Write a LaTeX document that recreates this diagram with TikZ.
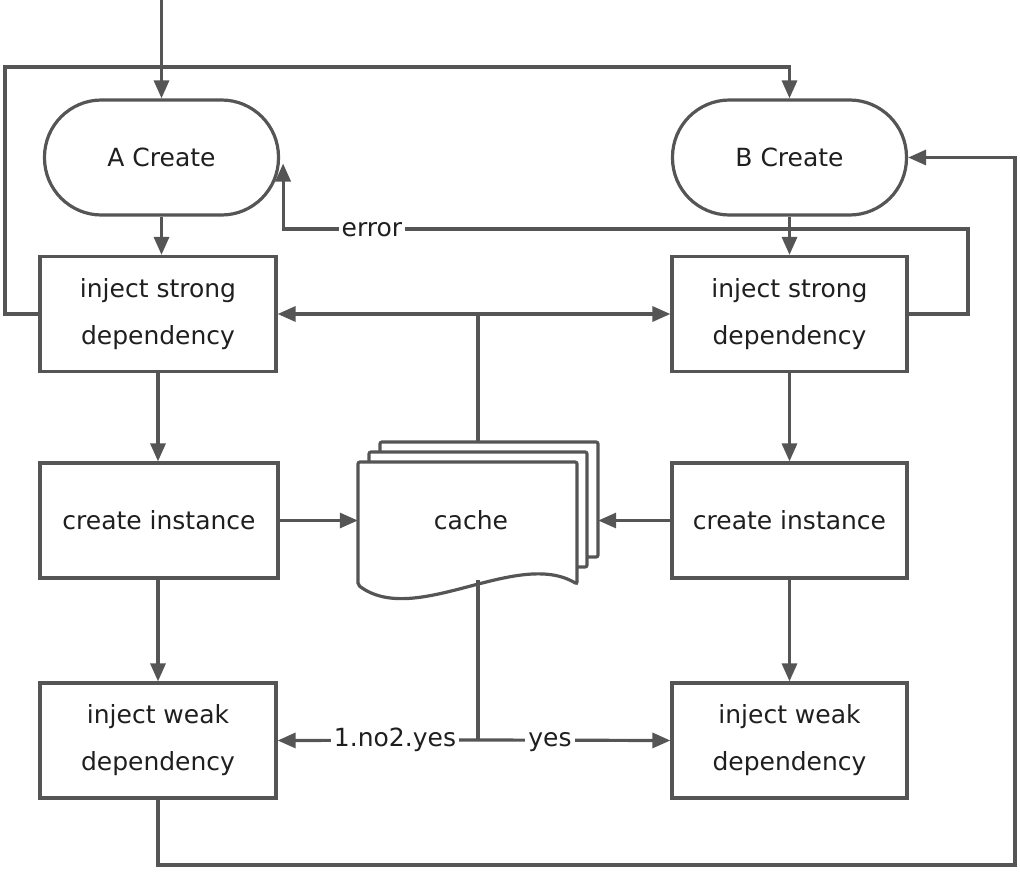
\documentclass[tikz,border=0pt]{standalone}
\usepackage{fontspec}
\setmainfont{DejaVu Sans}
\usetikzlibrary{arrows.meta}
\definecolor{ln}{HTML}{555555}
\definecolor{tx}{HTML}{1F1F1F}
\begin{document}
\begin{tikzpicture}[x=1pt,y=-1pt,
  conn/.style={draw=ln,line width=3.2pt},
  arr/.style={conn,-{Triangle[length=18pt,width=15pt]}},
  box/.style={draw=ln,line width=3.2pt,fill=white,minimum width=236pt,minimum height=115pt,
    align=center,text=tx,font=\fontsize{25}{47}\selectfont,inner sep=0pt},
  term/.style={box,rounded corners=57pt,minimum width=234pt},
  lab/.style={fill=white,text=tx,inner sep=3pt,text height=18pt,text depth=5pt,font=\fontsize{25}{30}\selectfont},
  page/.style={draw=ln,line width=3.2pt,fill=white,rounded corners=2pt}]
\useasboundingbox (0,0) rectangle (1020,894);
% nodes
\node[term] (Acreate) at (161.5,157.5) {A Create};
\node[term] (Bcreate) at (789.5,157.5) {B Create};
\node[box] (Astrong) at (158,314) {inject strong\\dependency};
\node[box,minimum width=235pt] (Bstrong) at (789.5,314) {inject strong\\dependency};
\node[box,minimum width=238pt] (Ainst) at (159,520.5) {create instance};
\node[box,minimum width=235pt] (Binst) at (789.5,520.5) {create instance};
\node[box] (Aweak) at (158,740.5) {inject weak\\dependency};
\node[box,minimum width=235pt] (Bweak) at (789.5,740.5) {inject weak\\dependency};
% cache (multi-document)
\node[minimum width=240pt,minimum height=138pt,inner sep=0pt] (cache) at (478,511) {};
\draw[page] (380,442) rectangle (598,557);
\draw[page] (369,452) rectangle (587,567);
\draw[page] (358,585) -- (358,462) -- (577,462) -- (577,584)
  .. controls (517,548) and (415,628) .. cycle;
\node[text=tx,font=\fontsize{25}{30}\selectfont] (cachetxt) at (471,520) {cache};
% coordinates
\coordinate (start) at (161.5,0);
\coordinate (lt) at (5,67);
\coordinate (errc) at (968,229);
\coordinate (split) at (478,740);
\coordinate (hub) at (478,314);
\coordinate (br) at (1015,865);
% connectors
\draw[arr] (start) -- (Acreate.north);
\draw[arr] (Astrong.west) -| (lt) -| (Bcreate.north);
\draw[arr] (Bstrong.east) -| (errc) -| ([xshift=3pt,yshift=-6pt]Acreate.east);
\node[lab] (errlab) at (372,230) {error};
\draw[arr] (Acreate.south) -- (Acreate.south |- Astrong.north);
\draw[arr] (Bcreate.south) -- (Bcreate.south |- Bstrong.north);
\draw[arr] (Astrong.south) -- (Astrong.south |- Ainst.north);
\draw[arr] (Bstrong.south) -- (Binst.north);
\draw[arr] (Astrong.south |- Ainst.south) -- (Astrong.south |- Aweak.north);
\draw[arr] (Binst.south) -- (Bweak.north);
\draw[conn] (cache.north) -- (hub);
\draw[arr] (hub) -- (Astrong.east);
\draw[arr] (hub) -- (Bstrong.west);
\draw[arr] (Ainst.east) -- (Ainst.east -| cache.west);
\draw[arr] (Binst.west) -- (Binst.west -| cache.east);
\draw[conn] (cache.south) -- (split);
\draw[arr] (split) -- (Aweak.east);
\draw[arr] (split) -- (Bweak.west);
\node[lab] (nolab) at (395,740) {1.no2.yes};
\node[lab] (yeslab) at (550,740) {yes};
\draw[arr] (Aweak.south) |- (br) |- (Bcreate.east);
\end{tikzpicture}
\end{document}
